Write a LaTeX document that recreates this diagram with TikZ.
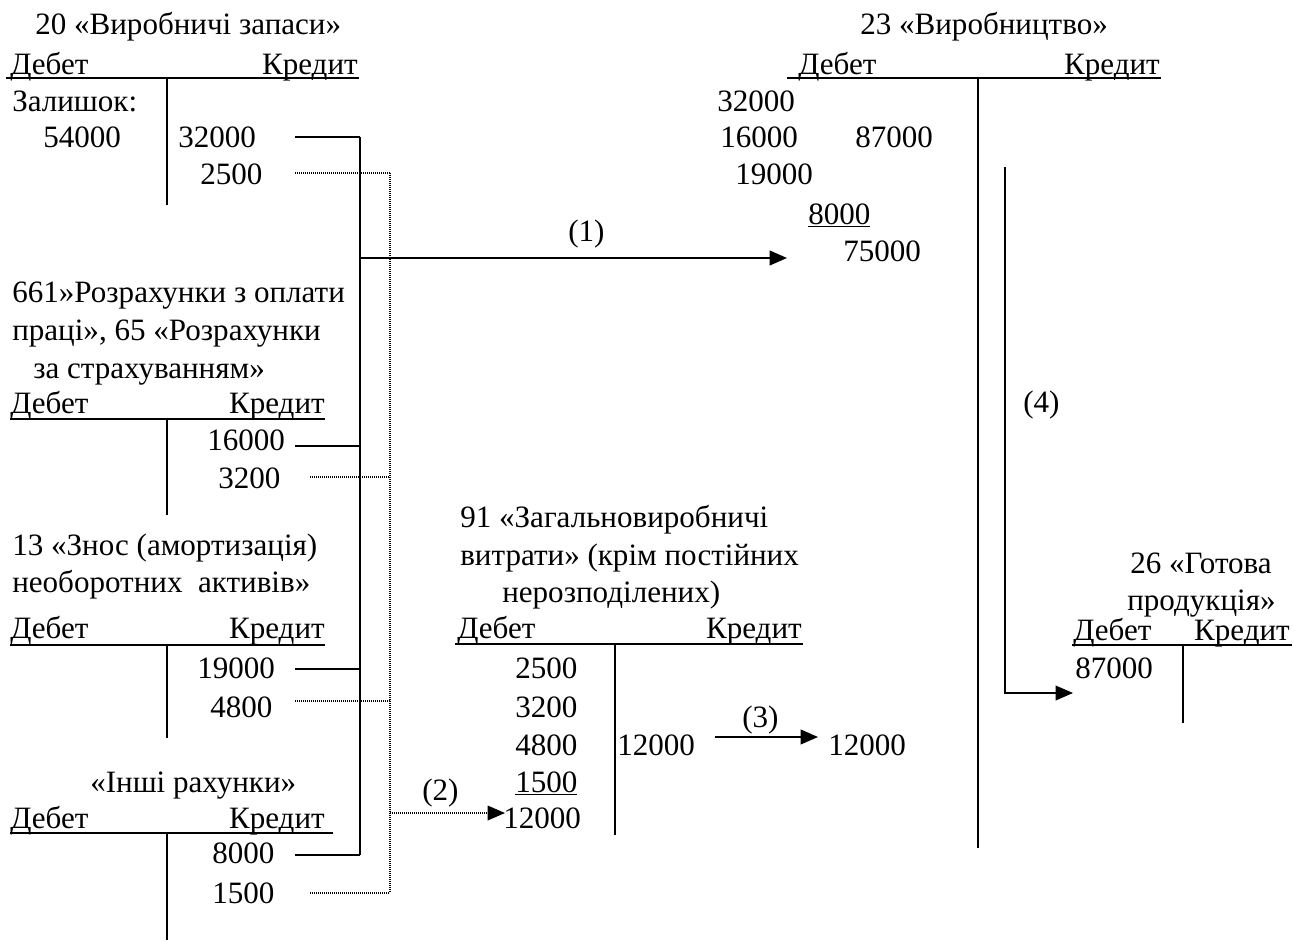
\documentclass[tikz,border=0pt]{standalone}
\usepackage{fontspec}
\setmainfont{Liberation Serif}
\usepackage{tikz}
\usetikzlibrary{arrows.meta}

\begin{document}
\begin{tikzpicture}[x=0.75pt,y=-0.75pt,>={Triangle[length=13pt,width=11pt]},
    every node/.style={inner sep=0pt,font=\fontsize{23.3}{28}\selectfont},
    txt/.style={anchor=base west},
    rtxt/.style={anchor=base east},
    tacc/.style={line width=1.3pt},
    flow/.style={line width=1.4pt},
    dflow/.style={line width=0.9pt,dash pattern=on 0.75pt off 0.75pt}]
    \useasboundingbox (0,0) rectangle (1294,941);
    % 20
    \node[txt] (t20) at (35,35) {20 «Виробничі запаси»};
    \node[txt] (d20) at (10,75) {Дебет};
    \node[rtxt] (k20) at (358,75) {Кредит};
    \draw[tacc] (6,78) -- (359,78) (167,78) -- (167,205);
    \node[txt] (z20) at (12,112) {Залишок:};
    \node[txt] (s20) at (43,148) {54000};
    \node[txt] (a20) at (178,148) {32000};
    \node[txt] (b20) at (200,185) {2500};
    % 661, 65
    \node[txt] (t66a) at (12,302) {661»Розрахунки з оплати};
    \node[txt] (t66b) at (12,340) {праці», 65 «Розрахунки};
    \node[txt] (t66c) at (33,378) {за страхуванням»};
    \node[txt] (d66) at (10,413) {Дебет};
    \node[rtxt] (k66) at (325,413) {Кредит};
    \draw[tacc] (10,419) -- (325,419) (167,419) -- (167,515);
    \node[txt] (a66) at (207,450) {16000};
    \node[txt] (b66) at (218,488) {3200};
    % 13
    \node[txt] (t13a) at (12,555) {13 «Знос (амортизація)};
    \node[txt] (t13b) at (12,592) {необоротних\ \ активів»};
    \node[txt] (d13) at (10,638) {Дебет};
    \node[rtxt] (k13) at (325,638) {Кредит};
    \draw[tacc] (10,645) -- (325,645) (167,645) -- (167,738);
    \node[txt] (a13) at (197,678) {19000};
    \node[txt] (b13) at (210,717) {4800};
    % other accounts
    \node[txt] (tin) at (90,792) {«Інші рахунки»};
    \node[txt] (din) at (10,828) {Дебет};
    \node[rtxt] (kin) at (325,828) {Кредит};
    \draw[tacc] (10,833) -- (333,833) (167,833) -- (167,940);
    \node[txt] (ain) at (212,863) {8000};
    \node[txt] (bin) at (212,903) {1500};
    % 91
    \node[txt] (t91a) at (460,527) {91 «Загальновиробничі};
    \node[txt] (t91b) at (460,565) {витрати» (крім постійних};
    \node[txt] (t91c) at (502,602) {нерозподілених)};
    \node[txt] (d91) at (457,638) {Дебет};
    \node[rtxt] (k91) at (802,638) {Кредит};
    \draw[tacc] (455,644) -- (803,644) (615,644) -- (615,835);
    \node[txt] (p1) at (515,678) {2500};
    \node[txt] (p2) at (515,717) {3200};
    \node[txt] (p3) at (515,755) {4800};
    \node[txt] (p4) at (515,792) {\underline{1500}};
    \node[txt] (p5) at (503,828) {12000};
    \node[txt] (c91) at (617,755) {12000};
    \node[txt] (l2) at (422,800) {(2)};
    \node[txt] (l3) at (742,727) {(3)};
    \node[txt] (r91) at (828,755) {12000};
    % 23
    \node[txt] (t23) at (860,35) {23 «Виробництво»};
    \node[txt] (d23) at (798,75) {Дебет};
    \node[rtxt] (k23) at (1160,75) {Кредит};
    \draw[tacc] (787,78) -- (1161,78) (978,78) -- (978,848);
    \node[txt] (q1) at (717,112) {32000};
    \node[txt] (q2) at (720,148) {16000};
    \node[txt] (q3) at (735,185) {19000};
    \node[txt] (q4) at (808,224) {\underline{8000}};
    \node[txt] (q5) at (843,262) {75000};
    \node[txt] (c23) at (855,148) {87000};
    \node[txt] (l1) at (568,242) {(1)};
    \node[txt] (l4) at (1023,412) {(4)};
    % 26
    \node[txt] (t26a) at (1130,573) {26 «Готова};
    \node[txt] (t26b) at (1127,610) {продукція»};
    \node[txt] (d26) at (1073,640) {Дебет};
    \node[rtxt] (k26) at (1290,640) {Кредит};
    \draw[tacc] (1072,645) -- (1292,645) (1183,645) -- (1183,723);
    \node[txt] (r26) at (1075,678) {87000};
    % solid bus (1)
    \coordinate (bt) at (360,137);
    \coordinate (bb) at (360,855);
    \coordinate (b1) at (360,258);
    \coordinate (e1) at (787,258);
    \draw[flow] (bt) -- (bb);
    \foreach \y in {137,446,669,855}
        \draw[flow] (295,\y) -- (360,\y);
    \draw[flow,->] (b1) -- (e1);
    % dotted bus (2)
    \coordinate (dt) at (390,173);
    \coordinate (db) at (390,893);
    \coordinate (d2) at (390,813);
    \coordinate (e2) at (505,813);
    \draw[dflow] (dt) -- (db);
    \foreach \x/\y in {295/173,310/477,295/701,310/893}
        \draw[dflow] (\x,\y) -- (390,\y);
    \draw[dflow,->] (d2) -- (e2);
    % (3)
    \coordinate (s3) at (715,737);
    \coordinate (e3) at (818,737);
    \draw[flow,->] (s3) -- (e3);
    % (4)
    \coordinate (s4) at (1005,167);
    \coordinate (e4) at (1073,693);
    \draw[line width=1pt,->] (s4) |- (e4);
\end{tikzpicture}
\end{document}
